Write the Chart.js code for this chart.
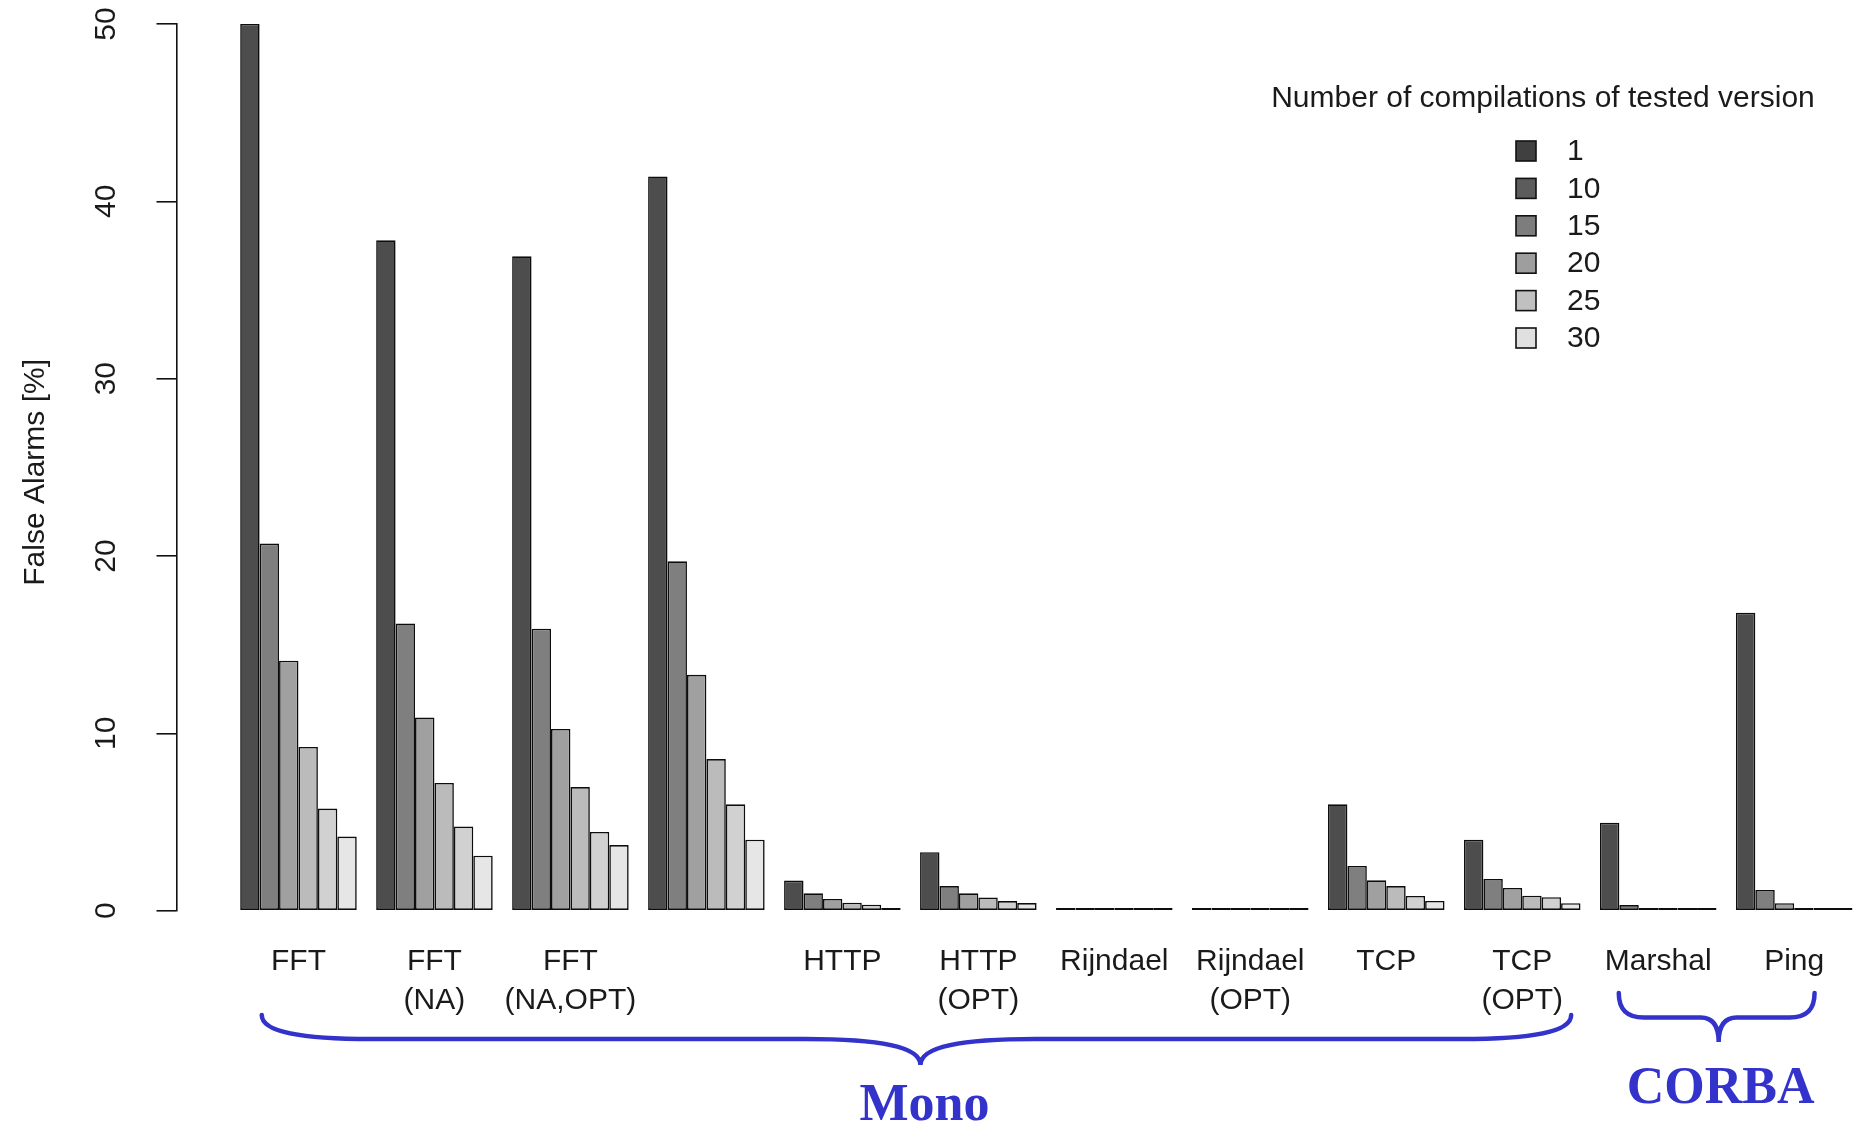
<!DOCTYPE html>
<html>
<head>
<meta charset="utf-8">
<title>False Alarms</title>
<script src="https://cdn.jsdelivr.net/npm/chart.js@4/dist/chart.umd.min.js"></script>
<style>
  html, body { margin: 0; padding: 0; background: #ffffff; overflow: hidden; }
  canvas { display: block; }
</style>
</head>
<body>
<canvas id="chart" width="1856" height="1124"></canvas>
<script>
// Benchmarks (x categories), one group of bars each
const benchmarks = [
  ['FFT'], ['FFT', '(NA)'], ['FFT', '(NA,OPT)'], [''],
  ['HTTP'], ['HTTP', '(OPT)'], ['Rijndael'], ['Rijndael', '(OPT)'],
  ['TCP'], ['TCP', '(OPT)'], ['Marshal'], ['Ping']
];

// Number of compilations of the tested version (one series each)
const compilations = ['1', '10', '15', '20', '25', '30'];

// False alarms [%] per benchmark, for each number of compilations
const alarms1  = [50.0, 37.8, 36.9, 41.4, 1.70, 3.30, 0.12, 0, 6.00, 4.00, 4.96, 16.8];
const alarms10 = [20.7, 16.2, 15.9, 19.7, 0.98, 1.39, 0, 0, 2.52, 1.79, 0.32, 1.17];
const alarms15 = [14.1, 10.9, 10.25, 13.3, 0.66, 0.98, 0, 0, 1.71, 1.28, 0.13, 0.42];
const alarms20 = [9.23, 7.2, 6.97, 8.55, 0.45, 0.75, 0, 0, 1.39, 0.85, 0, 0.11];
const alarms25 = [5.76, 4.75, 4.44, 6.0, 0.34, 0.54, 0, 0, 0.83, 0.76, 0, 0.10];
const alarms30 = [4.18, 3.1, 3.7, 4.0, 0.14, 0.43, 0, 0, 0.55, 0.42, 0, 0];

const yTicks = [0, 10, 20, 30, 40, 50];

// Benchmark families, bracketed under the axis labels
const families = [
  { name: 'Mono',  from: -0.27, to: 9.36 },
  { name: 'CORBA', from: 9.71,  to: 11.15 }
];

const series = [alarms1, alarms10, alarms15, alarms20, alarms25, alarms30];
const barFills    = ['#4D4D4D', '#7F7F7F', '#A0A0A0', '#BBBBBB', '#D1D1D1', '#E6E6E6'];
const legendFills = ['#404040', '#5C5C5C', '#7D7D7D', '#9E9E9E', '#C0C0C0', '#E0E0E0'];

const SANS = '"Liberation Sans", Arial, sans-serif';
const SERIF = '"Liberation Serif", "Times New Roman", serif';
const INK = '#1a1a1a';
const BLUE = '#3333CC';

// Rotated y tick labels, axis title, legend and family braces
const decorations = {
  id: 'decorations',
  afterDraw(chart) {
    const ctx = chart.ctx;
    const area = chart.chartArea;
    const ys = chart.scales.y;
    const xs = chart.scales.x;

    ctx.save();
    ctx.fillStyle = INK;
    ctx.font = '30px ' + SANS;
    ctx.textAlign = 'center';
    ctx.textBaseline = 'alphabetic';
    ys.ticks.forEach(t => {
      ctx.save();
      ctx.translate(area.left - 61.5, ys.getPixelForValue(t.value));
      ctx.rotate(-Math.PI / 2);
      ctx.fillText(String(t.value), 0, 0);
      ctx.restore();
    });

    // y axis title
    ctx.save();
    ctx.translate(44, (area.top + area.bottom) / 2 + 5);
    ctx.rotate(-Math.PI / 2);
    ctx.fillText('False Alarms [%]', 0, 0);
    ctx.restore();

    // legend
    ctx.font = '30px ' + SANS;
    ctx.textAlign = 'center';
    ctx.fillText('Number of compilations of tested version', 1543, 107);
    ctx.textAlign = 'left';
    ctx.textBaseline = 'middle';
    compilations.forEach((lab, i) => {
      const cy = 151 + i * 37.4;
      ctx.fillStyle = legendFills[i];
      ctx.fillRect(1516, cy - 10, 20, 20);
      ctx.strokeStyle = '#111';
      ctx.lineWidth = 1.6;
      ctx.strokeRect(1516, cy - 10, 20, 20);
      ctx.fillStyle = INK;
      ctx.fillText(lab, 1567, cy + 1);
    });
    ctx.restore();

    // family braces
    const shapes = [
      { yTop: 1015, yMid: 1039, yTip: 1065, rEnd: 110, rMid: 115, textY: 1120, shift: 4, textShift: 4 },
      { yTop: 993,  yMid: 1017.5, yTip: 1042, rEnd: 25, rMid: 18, textY: 1103, shift: 2, textShift: 2 }
    ];
    families.forEach((f, i) => {
      const s = shapes[i];
      const x1 = xs.getPixelForValue(f.from);
      const x2 = xs.getPixelForValue(f.to);
      const xc = (x1 + x2) / 2 + s.shift;
      ctx.save();
      ctx.strokeStyle = BLUE;
      ctx.lineWidth = 4.5;
      ctx.lineCap = 'round';
      ctx.lineJoin = 'miter';
      ctx.beginPath();
      ctx.moveTo(x1, s.yTop);
      ctx.bezierCurveTo(x1, s.yTop + (s.yMid - s.yTop) * 0.7, x1 + s.rEnd * 0.35, s.yMid, x1 + s.rEnd, s.yMid);
      ctx.lineTo(xc - s.rMid, s.yMid);
      ctx.bezierCurveTo(xc - s.rMid * 0.35, s.yMid, xc, s.yMid + (s.yTip - s.yMid) * 0.3, xc, s.yTip);
      ctx.bezierCurveTo(xc, s.yMid + (s.yTip - s.yMid) * 0.3, xc + s.rMid * 0.35, s.yMid, xc + s.rMid, s.yMid);
      ctx.lineTo(x2 - s.rEnd, s.yMid);
      ctx.bezierCurveTo(x2 - s.rEnd * 0.35, s.yMid, x2, s.yTop + (s.yMid - s.yTop) * 0.7, x2, s.yTop);
      ctx.stroke();
      ctx.fillStyle = BLUE;
      ctx.font = 'bold 52px ' + SERIF;
      ctx.textAlign = 'center';
      ctx.textBaseline = 'alphabetic';
      ctx.fillText(f.name, xc + s.textShift, s.textY);
      ctx.restore();
    });
  }
};

new Chart(document.getElementById('chart'), {
  type: 'bar',
  data: {
    datasets: series.map((vals, k) => ({
      label: compilations[k],
      data: vals.map((v, i) => ({ x: i, y: v })),
      backgroundColor: barFills[k],
      borderColor: '#0d0d0d',
      borderWidth: 1.6,
      borderSkipped: false,
      minBarLength: 2.6,
      categoryPercentage: 6 / 7,
      barPercentage: 1
    }))
  },
  options: {
    responsive: false,
    animation: false,
    devicePixelRatio: 1,
    layout: { padding: { left: 156.5, right: 0, top: 24, bottom: 71.7 } },
    plugins: { legend: { display: false }, tooltip: { enabled: false } },
    scales: {
      x: {
        type: 'linear',
        min: -0.897,
        max: 11.44,
        offset: false,
        bounds: 'data',
        grid: { display: false, drawTicks: false },
        border: { display: false },
        afterBuildTicks: scale => { scale.ticks = benchmarks.map((_, i) => ({ value: i })); },
        ticks: {
          autoSkip: false,
          maxRotation: 0,
          minRotation: 0,
          padding: 31.8,
          color: INK,
          font: { family: SANS, size: 30, lineHeight: 1.3 },
          callback: v => benchmarks[v]
        }
      },
      y: {
        min: 0,
        max: 50,
        afterBuildTicks: scale => { scale.ticks = yTicks.map(v => ({ value: v })); },
        grid: { display: true, drawOnChartArea: false, drawTicks: true, tickLength: 20, color: '#111', lineWidth: 1.6 },
        border: { display: true, color: '#111', width: 1.6 },
        ticks: { display: false }
      }
    }
  },
  plugins: [decorations]
});
</script>
</body>
</html>
